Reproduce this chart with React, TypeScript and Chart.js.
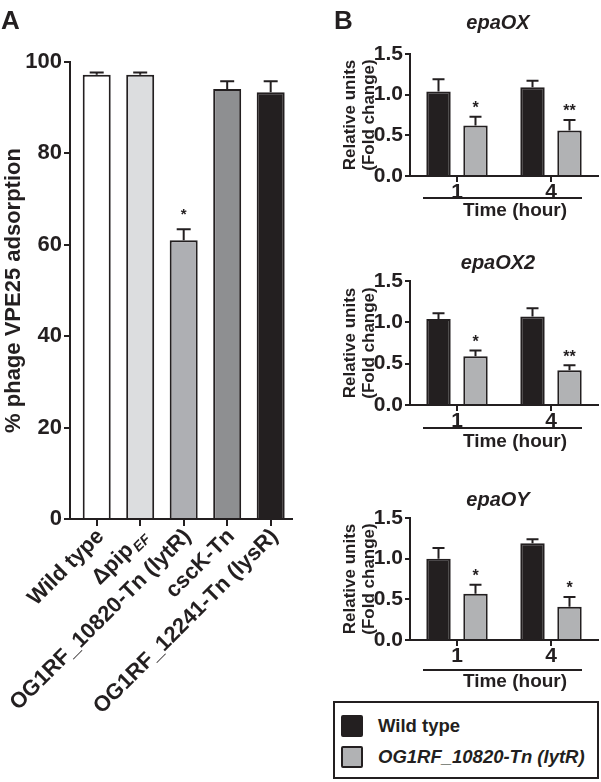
import React, { useEffect, useRef } from 'react';
import { Chart, registerables } from 'chart.js';

Chart.register(...registerables);

const INK = '#231f20';
const FONT = "'Liberation Sans', Arial, Helvetica, sans-serif";
Chart.defaults.font.family = FONT;
Chart.defaults.color = INK;

// ---------- Panel A data ----------
const strainLabels = ['Wild type', 'Δpip', 'OG1RF_10820-Tn (lytR)', 'cscK-Tn', 'OG1RF_12241-Tn (lysR)'];
const strainSubscripts = ['', 'EF', '', '', ''];
const adsorptionMean = [97.2, 97.2, 61.0, 94.1, 93.4];
const adsorptionSem = [0.5, 0.5, 2.4, 1.7, 2.4];
const adsorptionMarks = ['', '', '*', '', ''];
const strainColors = ['#ffffff', '#dcdddf', '#aeafb3', '#8e8f91', '#231f20'];
const adsorptionTicks = [0, 20, 40, 60, 80, 100];
const adsorptionAxisTitle = '% phage VPE25 adsorption';

// ---------- Panel B data ----------
const timeLabels = ['1', '4'];
const timeAxisTitle = 'Time (hour)';
const foldAxisTitle = ['Relative units', '(Fold change)'];
const foldTicks = [0, 0.5, 1.0, 1.5];
const seriesNames = ['Wild type', 'OG1RF_10820-Tn (lytR)'];
const seriesColors = ['#231f20', '#b1b2b4'];
const geneNames = ['epaOX', 'epaOX2', 'epaOY'];

const epaOXWild = [1.04, 1.09];
const epaOXWildErr = [0.15, 0.08];
const epaOXMutant = [0.62, 0.56];
const epaOXMutantErr = [0.11, 0.13];
const epaOXMarks = ['*', '**'];

const epaOX2Wild = [1.04, 1.07];
const epaOX2WildErr = [0.07, 0.10];
const epaOX2Mutant = [0.59, 0.42];
const epaOX2MutantErr = [0.07, 0.06];
const epaOX2Marks = ['*', '**'];

const epaOYWild = [1.0, 1.19];
const epaOYWildErr = [0.13, 0.05];
const epaOYMutant = [0.57, 0.41];
const epaOYMutantErr = [0.11, 0.12];
const epaOYMarks = ['*', '*'];

const genePanels = [
  { name: geneNames[0], wild: epaOXWild, wildErr: epaOXWildErr, mutant: epaOXMutant, mutantErr: epaOXMutantErr, marks: epaOXMarks },
  { name: geneNames[1], wild: epaOX2Wild, wildErr: epaOX2WildErr, mutant: epaOX2Mutant, mutantErr: epaOX2MutantErr, marks: epaOX2Marks },
  { name: geneNames[2], wild: epaOYWild, wildErr: epaOYWildErr, mutant: epaOYMutant, mutantErr: epaOYMutantErr, marks: epaOYMarks },
];

// layout of the three panel-B canvases (page pixels)
const geneLayout = [
  { top: 0, height: 226, plotTop: 54, plotBottom: 176, titleGap: 31, lineGap: 22, textGap: 35 },
  { top: 226, height: 226, plotTop: 281, plotBottom: 405, titleGap: 18, lineGap: 23, textGap: 37 },
  { top: 452, height: 248, plotTop: 518, plotBottom: 640, titleGap: 18, lineGap: 30, textGap: 42 },
];

function makeErrorBars(errors: number[][], marks: string[][], capHalf: number, markGap: number, markSize: number) {
  return {
    id: 'errorBars',
    afterDatasetsDraw(chart: any) {
      const ctx = chart.ctx;
      const ys = chart.scales.y;
      chart.data.datasets.forEach((ds: any, di: number) => {
        const meta = chart.getDatasetMeta(di);
        meta.data.forEach((el: any, i: number) => {
          const raw = ds.data[i];
          const v = typeof raw === 'number' ? raw : raw.y;
          const e = errors[di][i];
          const yTop = ys.getPixelForValue(v + e);
          ctx.save();
          ctx.strokeStyle = INK;
          ctx.lineWidth = 2;
          ctx.beginPath();
          ctx.moveTo(el.x, el.y);
          ctx.lineTo(el.x, yTop);
          ctx.moveTo(el.x - capHalf, yTop);
          ctx.lineTo(el.x + capHalf, yTop);
          ctx.stroke();
          const m = marks[di] ? marks[di][i] : '';
          if (m) {
            ctx.fillStyle = INK;
            ctx.font = `bold ${markSize}px ${FONT}`;
            ctx.textAlign = 'center';
            ctx.textBaseline = 'alphabetic';
            ctx.fillText(m, el.x, yTop - markGap + 0.58 * markSize);
          }
          ctx.restore();
        });
      });
    },
  };
}

const axisStyle = (tickLength: number) => ({
  grid: { display: true, drawOnChartArea: false, drawTicks: true, tickLength, lineWidth: 2, color: INK, offset: false },
  border: { display: true, width: 2, color: INK },
});

function PanelA() {
  const ref = useRef<HTMLCanvasElement>(null);
  useEffect(() => {
    const canvas = ref.current!;
    const labelsPlugin = {
      id: 'strainLabels',
      afterDraw(chart: any) {
        const ctx = chart.ctx;
        const xs = chart.scales.x;
        const bottom = chart.chartArea.bottom;
        strainLabels.forEach((lab, i) => {
          const px = xs.getPixelForValue(i);
          ctx.save();
          ctx.fillStyle = INK;
          ctx.translate(px + 4, bottom + 14);
          ctx.rotate(-Math.PI / 4);
          ctx.textBaseline = 'middle';
          ctx.textAlign = 'left';
          ctx.font = `bold 22px ${FONT}`;
          const w1 = ctx.measureText(lab).width;
          const sub = strainSubscripts[i];
          let w2 = 0;
          if (sub) {
            ctx.font = `italic bold 14px ${FONT}`;
            w2 = ctx.measureText(sub).width + 2;
          }
          ctx.font = `bold 22px ${FONT}`;
          ctx.fillText(lab, -(w1 + w2), 0);
          if (sub) {
            ctx.font = `italic bold 14px ${FONT}`;
            ctx.fillText(sub, -w2 + 2, 6);
          }
          ctx.restore();
        });
      },
    };
    const chart = new Chart(canvas, {
      type: 'bar',
      data: {
        datasets: [
          {
            data: adsorptionMean.map((v, i) => ({ x: i, y: v })),
            backgroundColor: strainColors,
            borderColor: INK,
            borderWidth: 2,
            borderSkipped: 'bottom',
            categoryPercentage: 1,
            barPercentage: 0.644,
          } as any,
        ],
      },
      options: {
        animation: false,
        responsive: false,
        devicePixelRatio: 1,
        layout: { padding: { top: 62, right: 8, bottom: 0, left: 0 } },
        plugins: { legend: { display: false }, tooltip: { enabled: false } },
        scales: {
          x: {
            type: 'linear',
            offset: false,
            min: -0.614,
            max: 4.49,
            afterBuildTicks: (s: any) => {
              s.ticks = strainLabels.map((_, i) => ({ value: i }));
            },
            ticks: { display: false },
            ...axisStyle(7),
            afterFit: (s: any) => {
              s.height = 263;
            },
          },
          y: {
            min: 0,
            max: 100,
            afterBuildTicks: (s: any) => {
              s.ticks = adsorptionTicks.map((v) => ({ value: v }));
            },
            ticks: { font: { size: 22, weight: 'bold' }, color: INK, padding: 2 },
            ...axisStyle(6),
            title: {
              display: true,
              text: adsorptionAxisTitle,
              font: { size: 22, weight: 'bold' },
              color: INK,
              padding: { top: 1, bottom: 0 },
            },
            afterFit: (s: any) => {
              s.width = 70;
            },
          },
        } as any,
      },
      plugins: [makeErrorBars([adsorptionSem], [adsorptionMarks], 7, 19, 15), labelsPlugin],
    });
    return () => chart.destroy();
  }, []);
  return <canvas ref={ref} width={300} height={782} style={{ position: 'absolute', left: 0, top: 0 }} />;
}

function GenePanel({ idx }: { idx: number }) {
  const ref = useRef<HTMLCanvasElement>(null);
  const L = geneLayout[idx];
  useEffect(() => {
    const g = genePanels[idx];
    const canvas = ref.current!;
    const annotate = {
      id: 'geneAnnotate',
      afterDraw(chart: any) {
        const ctx = chart.ctx;
        const ca = chart.chartArea;
        const cx = (ca.left + ca.right) / 2;
        ctx.save();
        ctx.fillStyle = INK;
        ctx.strokeStyle = INK;
        ctx.textAlign = 'center';
        ctx.textBaseline = 'middle';
        ctx.font = `italic bold 20px ${FONT}`;
        ctx.fillText(g.name, cx - 6, ca.top - L.titleGap);
        ctx.lineWidth = 2;
        ctx.beginPath();
        ctx.moveTo(ca.left + 13, ca.bottom + L.lineGap);
        ctx.lineTo(ca.right - 16, ca.bottom + L.lineGap);
        ctx.stroke();
        ctx.font = `bold 19px ${FONT}`;
        ctx.fillText(timeAxisTitle, cx + 11, ca.bottom + L.textGap);
        ctx.restore();
      },
    };
    const ds = (k: number, data: number[]) =>
      ({
        label: seriesNames[k],
        data,
        backgroundColor: seriesColors[k],
        borderColor: INK,
        borderWidth: 2,
        borderSkipped: 'bottom',
        categoryPercentage: 0.787,
        barPercentage: 0.66,
      } as any);
    const chart = new Chart(canvas, {
      type: 'bar',
      data: { labels: timeLabels, datasets: [ds(0, g.wild), ds(1, g.mutant)] },
      options: {
        animation: false,
        responsive: false,
        devicePixelRatio: 1,
        layout: { padding: { top: L.plotTop - L.top, right: 3, bottom: 0, left: 0 } },
        plugins: { legend: { display: false }, tooltip: { enabled: false } },
        scales: {
          x: {
            ticks: { font: { size: 21, weight: 'bold', lineHeight: 1 }, padding: 0, color: INK },
            ...axisStyle(6),
            afterFit: (s: any) => {
              s.height = L.top + L.height - L.plotBottom;
            },
          },
          y: {
            min: 0,
            max: 1.5,
            afterBuildTicks: (s: any) => {
              s.ticks = foldTicks.map((v) => ({ value: v }));
            },
            ticks: {
              font: { size: 21, weight: 'bold' },
              color: INK,
              padding: 2,
              callback: (v: any) => Number(v).toFixed(1),
            },
            ...axisStyle(5),
            title: {
              display: true,
              text: foldAxisTitle,
              font: { size: 17, weight: 'bold', lineHeight: 1.1 },
              color: INK,
              padding: { top: 1, bottom: 0 },
            },
            afterFit: (s: any) => {
              s.width = 70;
            },
          },
        } as any,
      },
      plugins: [makeErrorBars([g.wildErr, g.mutantErr], [[], g.marks], 6, 13, 16), annotate],
    });
    return () => chart.destroy();
  }, [idx]);
  return (
    <canvas ref={ref} width={261} height={L.height} style={{ position: 'absolute', left: 340, top: L.top }} />
  );
}

function Legend() {
  return (
    <div
      style={{
        position: 'absolute',
        left: 333,
        top: 701,
        width: 266,
        height: 78,
        border: `2px solid ${INK}`,
        boxSizing: 'border-box',
        fontFamily: FONT,
        background: '#fff',
      }}
    >
      {seriesNames.map((n, i) => (
        <div
          key={n}
          style={{ position: 'absolute', left: 6, top: 12 + i * 31, height: 22, display: 'flex', alignItems: 'center' }}
        >
          <div
            style={{
              width: 22,
              height: 22,
              boxSizing: 'border-box',
              background: seriesColors[i],
              border: `2px solid ${INK}`,
              borderRadius: 2,
            }}
          />
          <span
            style={{
              marginLeft: 15,
              fontWeight: 'bold',
              fontStyle: i === 1 ? 'italic' : 'normal',
              fontSize: 18.5,
              color: INK,
              whiteSpace: 'nowrap',
              lineHeight: '22px',
            }}
          >
            {n}
          </span>
        </div>
      ))}
    </div>
  );
}

const panelLetter = (text: string, left: number): React.CSSProperties => ({
  position: 'absolute',
  left,
  top: 7,
  fontFamily: FONT,
  fontWeight: 'bold',
  fontSize: 26,
  lineHeight: '26px',
  color: INK,
});

export default function App() {
  return (
    <div style={{ position: 'absolute', left: 0, top: 0, width: 601, height: 782, overflow: 'hidden', background: '#fff' }}>
      <PanelA />
      <GenePanel idx={0} />
      <GenePanel idx={1} />
      <GenePanel idx={2} />
      <Legend />
      <div style={panelLetter('A', 1)}>A</div>
      <div style={panelLetter('B', 334)}>B</div>
    </div>
  );
}
